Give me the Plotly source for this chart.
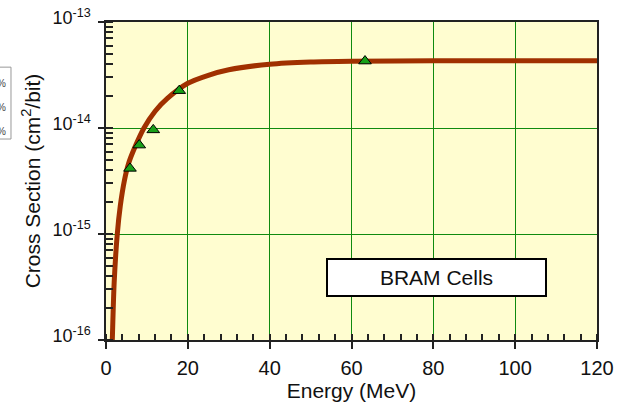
import plotly.graph_objects as go

# Measured data points (triangles)
energy_pts = [5.86, 8.13, 11.55, 17.9, 63.3]
xsec_pts = [4.16e-15, 6.9e-15, 9.6e-15, 2.25e-14, 4.28e-14]

# Fit curve
energy_fit = [1.45, 1.54, 2.0, 2.76, 3.5, 4.5, 5.5, 7.0, 9.28, 12, 15, 20, 25, 30, 40,
              50, 60, 80, 100, 120]
xsec_fit = [8e-17, 1e-16, 3.5e-16, 1.0e-15, 1.85e-15, 3.2e-15, 4.6e-15, 6.5e-15, 1.0e-14,
            1.44e-14, 1.9e-14, 2.64e-14, 3.14e-14, 3.54e-14, 4.0e-14, 4.2e-14, 4.27e-14,
            4.3e-14, 4.3e-14, 4.3e-14]

y_tickvals = [1e-16, 1e-15, 1e-14, 1e-13]
y_ticktext = ["10<sup>-16</sup>", "10<sup>-15</sup>", "10<sup>-14</sup>", "10<sup>-13</sup>"]
x_tickvals = [0, 20, 40, 60, 80, 100, 120]
x_ticktext = ["0", "20", "40", "60", "80", "100", "120"]

FONT = "Liberation Sans, Arial, sans-serif"
GRID = "#0F8A0F"

fig = go.Figure()
fig.add_trace(go.Scatter(
    x=energy_fit, y=xsec_fit, mode="lines",
    line=dict(color="#A03000", width=5, shape="spline", smoothing=0.8),
    showlegend=False, hoverinfo="skip"))
fig.add_trace(go.Scatter(
    x=energy_pts, y=xsec_pts, mode="markers",
    marker=dict(symbol="triangle-up", size=11, color="#18A018",
                line=dict(color="black", width=1)),
    showlegend=False))

fig.update_layout(
    width=627, height=402,
    margin=dict(l=106, r=30, t=22, b=62),
    paper_bgcolor="white", plot_bgcolor="#FFFDD0",
    font=dict(family=FONT, color="#111"),
    xaxis=dict(
        range=[0, 120], tickmode="array", tickvals=x_tickvals, ticktext=x_ticktext,
        showgrid=True, gridcolor=GRID, gridwidth=1, zeroline=False, automargin=False,
        showline=True, linecolor="#222", linewidth=1.5, mirror=True,
        ticks="outside", ticklen=7, tickcolor="#222", tickwidth=1.5,
        minor=dict(dtick=4, ticks="inside", ticklen=6, tickcolor="#222", showgrid=False),
        tickfont=dict(size=20, family=FONT), ticklabelstandoff=2,
        title=dict(text="Energy (MeV)", font=dict(size=21, family=FONT), standoff=4),
    ),
    yaxis=dict(
        type="log", range=[-16, -13], tickmode="array", tickvals=y_tickvals, ticktext=y_ticktext,
        showgrid=True, gridcolor=GRID, gridwidth=1, zeroline=False, automargin=False,
        showline=True, linecolor="#222", linewidth=1.5, mirror=True,
        ticks="outside", ticklen=6, tickcolor="#222", tickwidth=1.5,
        minor=dict(dtick="D1", ticks="inside", ticklen=7, tickcolor="#222", showgrid=False),
        tickfont=dict(size=18, family=FONT), ticklabelstandoff=4, ticklabelshift=-4,
        title=dict(text="Cross Section (cm<sup>2</sup>/bit)", font=dict(size=21, family=FONT), standoff=6),
    ),
)

# Label box
fig.add_annotation(
    xref="paper", yref="paper", x=0.673, y=0.1956, xanchor="center", yanchor="middle",
    text="BRAM Cells", showarrow=False, font=dict(size=21, family=FONT, color="#111"),
    bgcolor="white", bordercolor="black", borderwidth=2, width=215, height=33)

# Clipped fragment of a neighbouring legend at the left edge
fig.add_shape(type="rect", xref="paper", yref="paper", x0=-0.3, x1=-0.1935, y0=0.632, y1=0.858,
              line=dict(color="#999", width=1), fillcolor="white", layer="above")
for yy in [0.83, 0.755, 0.68]:
    fig.add_annotation(xref="paper", yref="paper", x=-0.2125, y=yy, text="%", showarrow=False,
                       font=dict(size=10, family=FONT, color="#444"), xanchor="center")

fig.write_html("out.html")
